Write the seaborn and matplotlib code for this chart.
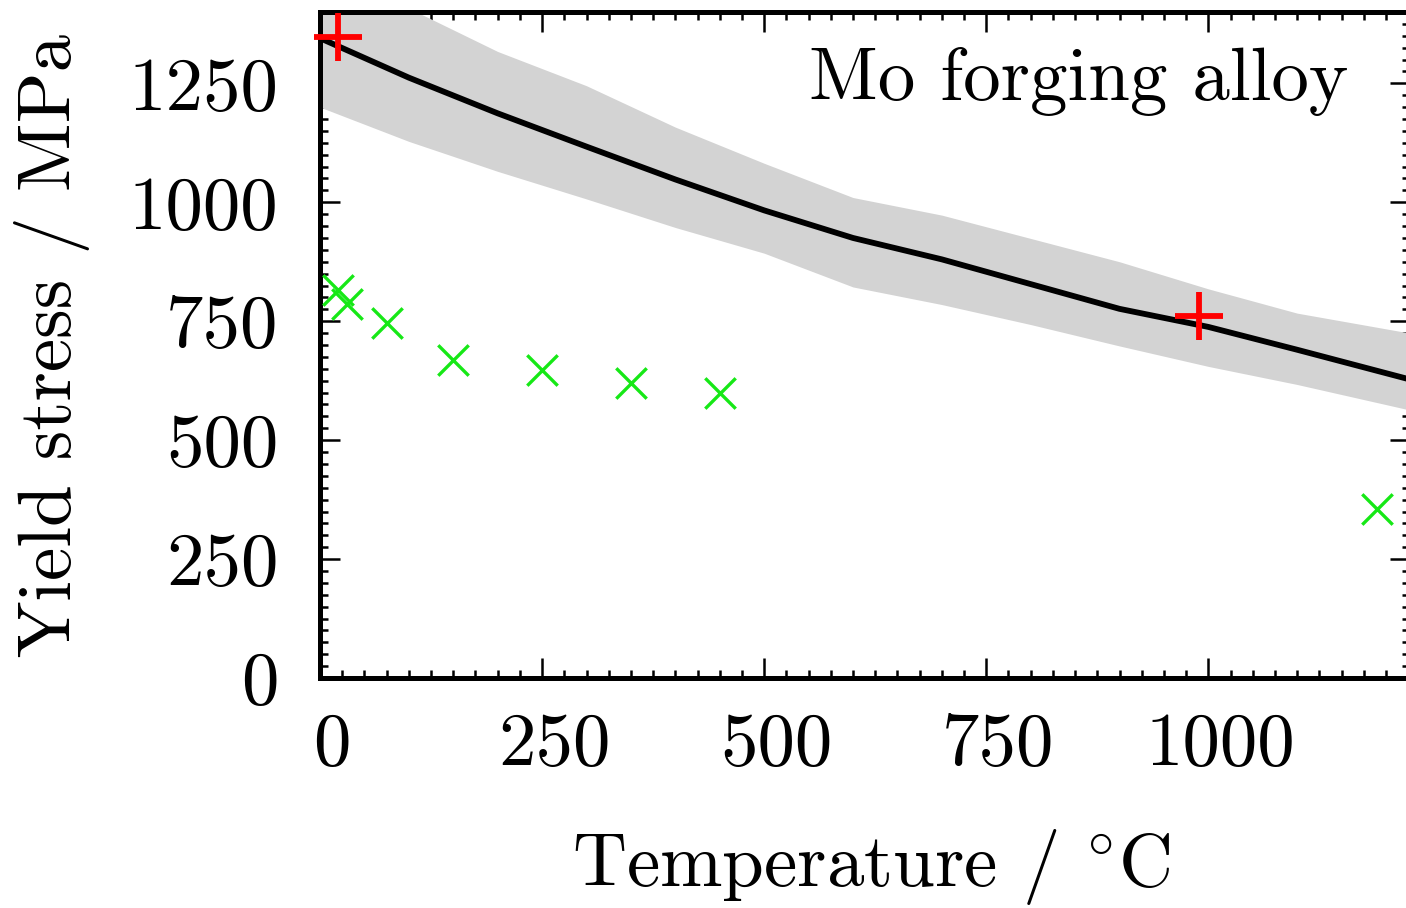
import numpy as np
import pandas as pd
import matplotlib
matplotlib.use("Agg")
import matplotlib.pyplot as plt
import matplotlib.transforms as mtransforms
from matplotlib.ticker import MultipleLocator
import seaborn as sns

# Model prediction (mean and uncertainty band) for the Mo forging alloy
temp_model = [0, 100, 200, 300, 400, 500, 600, 700, 800, 900, 1000, 1100, 1230]
stress_mean = [1345, 1262, 1187, 1117, 1048, 983, 925, 880, 828, 776, 738, 690, 626]
stress_upper = [1500, 1408, 1317, 1245, 1158, 1082, 1010, 973, 924, 875, 818, 767, 724]
stress_lower = [1200, 1128, 1065, 1007, 947, 893, 822, 785, 743, 698, 655, 617, 562]

# Reference measurements (red plus)
temp_ref = [20, 990]
stress_ref = [1348, 760]

# Literature measurements (green crosses)
temp_lit = [20, 30, 75, 150, 250, 350, 450, 1190]
stress_lit = [815, 786, 746, 668, 647, 621, 599, 355]

x_ticks = [0, 250, 500, 750, 1000]
y_ticks = [0, 250, 500, 750, 1000, 1250]

sns.set_theme(style="ticks")
plt.rcParams.update({
    "font.family": "serif",
    "font.serif": ["cmr10"],
    "mathtext.fontset": "cm",
    "axes.formatter.use_mathtext": True,
    "axes.unicode_minus": False,
    "text.color": "black",
    "axes.labelcolor": "black",
    "xtick.color": "black",
    "ytick.color": "black",
})

FS = 54

fig = plt.figure(figsize=(14.06, 9.08), dpi=100)
# right spine sits just past the right edge of the canvas
ax = fig.add_axes([320 / 1406, 230 / 908, 1090 / 1406, 666 / 908])

model = pd.DataFrame({"T": temp_model, "mean": stress_mean,
                      "lo": stress_lower, "hi": stress_upper})
ax.fill_between(model["T"], model["lo"], model["hi"], color="#d3d3d3",
                linewidth=0, zorder=1)
sns.lineplot(data=model, x="T", y="mean", color="black", linewidth=4.2,
             ax=ax, zorder=2)

lit = pd.DataFrame({"T": temp_lit, "s": stress_lit})
sns.scatterplot(data=lit, x="T", y="s", marker="x", s=480, color="#16e816",
                linewidth=2.4, ax=ax, zorder=3, clip_on=False)

ref = pd.DataFrame({"T": temp_ref, "s": stress_ref})
sns.scatterplot(data=ref, x="T", y="s", marker="+", s=1150, color="#ff0000",
                linewidth=4.2, ax=ax, zorder=4, clip_on=False)

ax.set_xlim(0, 1227)
ax.set_ylim(0, 1400)
ax.set_xticks(x_ticks)
ax.set_yticks(y_ticks)
ax.set_xticklabels([str(v) for v in x_ticks])
ax.set_yticklabels([str(v) for v in y_ticks])
ax.xaxis.set_minor_locator(MultipleLocator(25))
ax.yaxis.set_minor_locator(MultipleLocator(25))

ax.tick_params(which="both", direction="in", top=True, right=True,
               colors="black", labelsize=FS)
ax.tick_params(which="major", length=14.5, width=1.8)
ax.tick_params(which="minor", length=5.8, width=1.8)
ax.tick_params(axis="x", which="major", pad=25)
ax.tick_params(axis="y", which="major", pad=30)

for sp in ax.spines.values():
    sp.set_linewidth(3.6)
    sp.set_color("black")

# shift x tick labels slightly to the right
offset = mtransforms.ScaledTranslation(12 / 100, 0, fig.dpi_scale_trans)
for lab in ax.get_xticklabels():
    lab.set_transform(lab.get_transform() + offset)

ax.set_xlabel(r"Temperature / $^{\circ}$C", fontsize=FS, color="black")
ax.xaxis.set_label_coords(0.5 + 6 / 1090, -0.312)
ax.xaxis.label.set_verticalalignment("baseline")

ax.set_ylabel("Yield stress / MPa", fontsize=FS, color="black")
ax.yaxis.set_label_coords(-0.246, 0.5)
ax.yaxis.label.set_verticalalignment("center")

ax.text(0.943, 0.868, "Mo forging alloy", transform=ax.transAxes,
        ha="right", va="baseline", fontsize=FS, color="black")

fig.savefig("out.png", dpi=100, facecolor="white")
